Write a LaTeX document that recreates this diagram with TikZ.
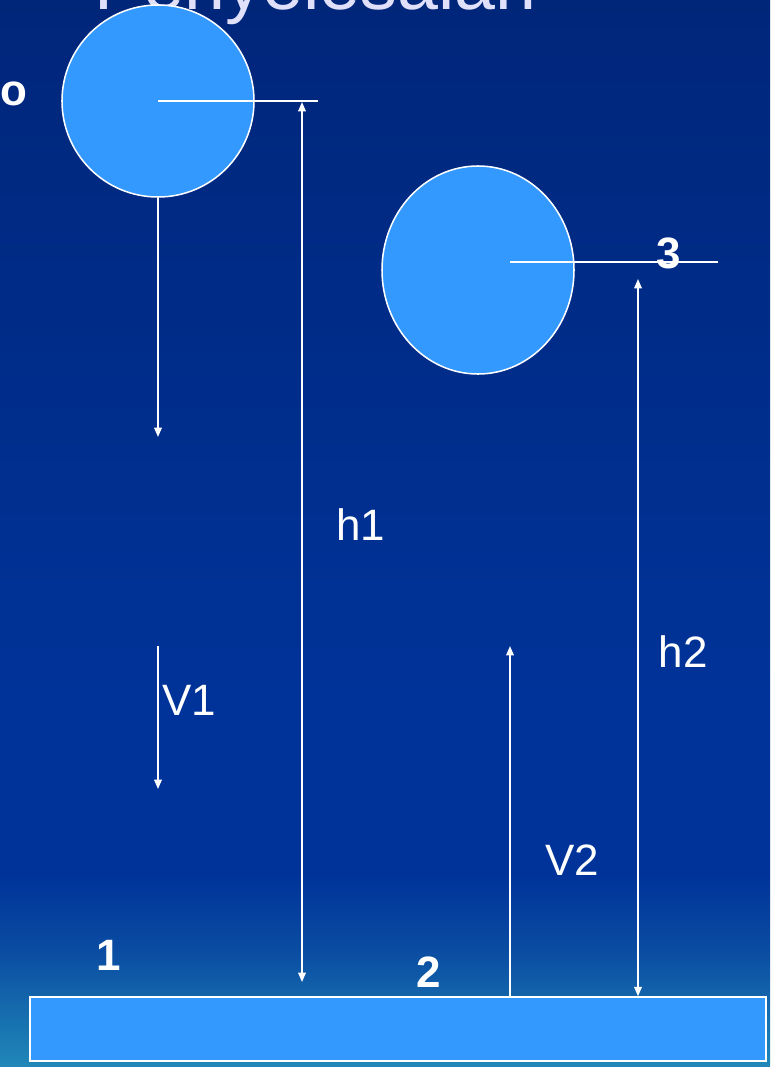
\documentclass[tikz,border=0pt]{standalone}
\usepackage{fontspec}
\setmainfont{Liberation Sans}
\usetikzlibrary{arrows.meta, positioning, shapes.geometric}
\definecolor{cball}{HTML}{3399FF}
\definecolor{ctop}{HTML}{00267A}
\definecolor{cmid}{HTML}{003399}
\definecolor{clow}{HTML}{0A4CA2}
\definecolor{cbot}{HTML}{2088B8}
\definecolor{ctitle}{HTML}{E0E0FA}
\pgfdeclareverticalshading{sky}{100bp}{color(0bp)=(cbot); color(25bp)=(cbot); color(30.5bp)=(clow); color(34bp)=(cmid); color(42bp)=(cmid); color(75bp)=(ctop); color(100bp)=(ctop)}
\tikzset{
  every picture/.style={font=\fontsize{37.5}{40}\selectfont, line width=1.3pt},
  ball/.style={ellipse, draw=white, fill=cball, inner sep=0pt},
  slab/.style={rectangle, draw=white, fill=cball, inner sep=0pt},
  rule/.style={draw=white},
  arrow/.style={-{Triangle[length=8pt, width=6.5pt]}, draw=white},
  dim/.style={{Triangle[length=8pt, width=6.5pt]}-{Triangle[length=8pt, width=6.5pt]}, draw=white},
  lbl/.style={text=white, inner sep=0pt},
  num/.style={lbl, font=\fontsize{37.5}{40}\selectfont\bfseries},
}
\begin{document}
\begin{tikzpicture}[x=0.03cm, y=-0.03cm]
  \clip (0,0) rectangle (770,1067);
  \shade[shading=sky] (0,0) rectangle (770,1067);
  % title, only its lower part is on the page
  \node[anchor=base west, text=ctitle, inner sep=0pt, font=\fontsize{62.8}{66}\selectfont] (title) at (94,10) {Penyelesaian};
  % balls and floor
  \node[ball, minimum width=5.76cm, minimum height=5.76cm] (ball1) at (158,101) {};
  \node[ball, minimum width=5.76cm, minimum height=6.24cm] (ball2) at (478,270) {};
  \node[slab, minimum width=22.08cm, minimum height=1.92cm] (floor) at (398,1029) {};
  % ends of the lines
  \coordinate (r1) at (318,101);
  \coordinate (h1a) at (302,102);
  \coordinate (h1b) at (302,982);
  \coordinate (fall) at (158,437);
  \coordinate (v1a) at (158,646);
  \coordinate (v1b) at (158,789);
  \coordinate (l2a) at (510,262);
  \coordinate (l2b) at (718,262);
  \coordinate (h2a) at (638,279);
  \coordinate (v2a) at (510,646);
  \draw[rule] (ball1.center) -- (r1);
  \draw[rule] (l2a) -- (l2b);
  \draw[dim] (h1a) -- (h1b);
  \draw[dim] (h2a) -- (h2a |- floor.north);
  \draw[arrow] (ball1.south) -- (fall);
  \draw[arrow] (v1a) -- (v1b);
  \draw[arrow] (v2a |- floor.north) -- (v2a);
  % labels
  \node[num] (lo) at (14,94) {o};
  \node[num] (l1) at (109,955) {1};
  \node[num] (l2) at (429,972) {2};
  \node[num] (l3) at (669,253) {3};
  \node[lbl] (lh1) at (361,525) {h1};
  \node[lbl] (lv1) at (189,700) {V1};
  \node[lbl] (lh2) at (683,652) {h2};
  \node[lbl] (lv2) at (572,860) {V2};
\end{tikzpicture}
\end{document}
